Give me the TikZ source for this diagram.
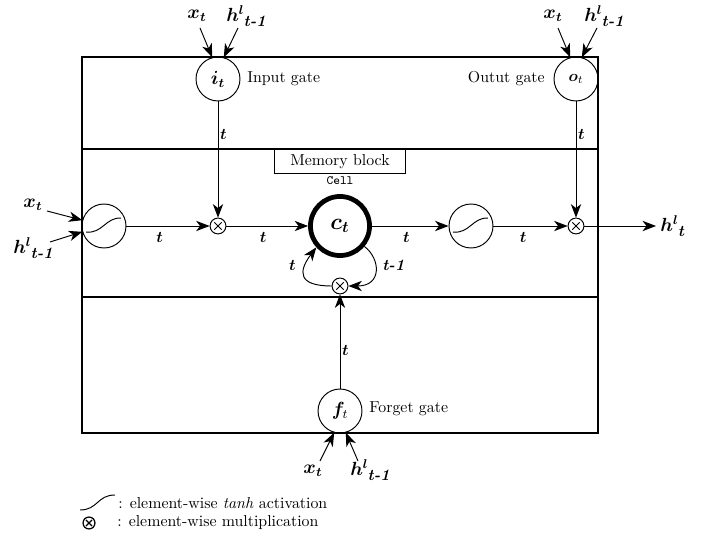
\documentclass[tikz,border=0pt]{standalone}
\usepackage{amsmath,bm}
\usetikzlibrary{arrows.meta}
\newcommand{\hlab}{$\bm{h}^{\bm{l}}$\kern-0.5pt\raisebox{-3pt}{\normalsize\bfseries\itshape t-1}}
\newcommand{\xlab}{$\bm{x}_{\bm{t}}$}
\begin{document}
\begin{tikzpicture}[x=0.63pt,y=-0.63pt,
  box/.style={line width=0.8pt},
  gate/.style={circle,draw,line width=0.6pt,minimum size=27.7pt,inner sep=0pt},
  act/.style={gate,path picture={
     \draw[line width=0.6pt] ([shift={(-11.3pt,-3.8pt)}]path picture bounding box.center)
        .. controls ([shift={(-1pt,-5pt)}]path picture bounding box.center)
        and ([shift={(1pt,5.5pt)}]path picture bounding box.center)
        .. ([shift={(10.7pt,5pt)}]path picture bounding box.center);}},
  mul/.style={circle,draw,line width=0.6pt,minimum size=10pt,inner sep=0pt,path picture={
     \draw[line width=0.6pt] ([shift={(-2.3pt,-2.3pt)}]path picture bounding box.center) -- ([shift={(2.3pt,2.3pt)}]path picture bounding box.center);
     \draw[line width=0.6pt] ([shift={(-2.3pt,2.3pt)}]path picture bounding box.center) -- ([shift={(2.3pt,-2.3pt)}]path picture bounding box.center);}},
  legmul/.style={circle,draw,line width=0.8pt,minimum size=7.5pt,inner sep=0pt,path picture={
     \draw[line width=0.8pt] ([shift={(-1.9pt,-1.9pt)}]path picture bounding box.center) -- ([shift={(1.9pt,1.9pt)}]path picture bounding box.center);
     \draw[line width=0.8pt] ([shift={(-1.9pt,1.9pt)}]path picture bounding box.center) -- ([shift={(1.9pt,-1.9pt)}]path picture bounding box.center);}},
  cellnode/.style={circle,draw,line width=3pt,minimum size=37.2pt,inner sep=0pt},
  flow/.style={line width=0.6pt,-{Stealth[length=8.5pt,width=6.5pt,inset=2.5pt]}},
  lab/.style={font=\large,inner sep=0pt},
  tl/.style={inner sep=1pt,font=\normalsize},
  gname/.style={inner sep=0pt}
]
\useasboundingbox (0,0) rectangle (711,539);
% frame
\draw[box] (82,57) rectangle (598,433);
\draw[box] (82,149) -- (598,149);
\draw[box] (82,297) -- (598,297);
\node[draw,line width=0.6pt,minimum width=83pt,minimum height=15pt,anchor=north,inner sep=0pt] (mem) at (340,149) {Memory block};

% nodes
\node[gate] (ig) at (218,79) {\large$\bm{i}_{\bm{t}}$};
\node[gate] (og) at (576,79) {$\bm{o}_t$};
\node[gate] (fg) at (340,411) {\large$\bm{f}_t$};
\node[act] (th1) at (104,226) {};
\node[mul] (m1) at (218,226) {};
\node[cellnode,label={[font=\ttfamily\footnotesize,label distance=2.5pt]90:Cell}] (cell) at (340,226) {\Large$\bm{c}_{\bm{t}}$};
\node[act] (th2) at (471,226) {};
\node[mul] (m2) at (576,226) {};
\node[mul] (mb) at (340,286) {};

\node[gname,anchor=west] (igl) at (247,79) {Input gate};
\node[gname,anchor=east] (ogl) at (545,79) {Outut gate};
\node[gname,anchor=west] (fgl) at (369,409) {Forget gate};

% input labels
\node[lab] (x1) at (197,16) {\xlab};
\node[lab] (h1) at (246,16) {\hlab};
\node[lab] (x2) at (553,16) {\xlab};
\node[lab] (h2) at (604,16) {\hlab};
\node[lab] (x3) at (33,205) {\xlab};
\node[lab] (h3) at (33,248) {\hlab};
\node[lab] (x4) at (313,471) {\xlab};
\node[lab] (h4) at (370,470) {\hlab};
\coordinate (x1t) at (200,28);
\coordinate (h1t) at (238,28);
\coordinate (x2t) at (558,28);
\coordinate (h2t) at (597,28);
\coordinate (x3t) at (47,211);
\coordinate (h3t) at (50,242);
\coordinate (x4t) at (320,461);
\coordinate (h4t) at (358,461);
\draw[flow] (x1t) -- (ig.105);
\draw[flow] (h1t) -- (ig.75);
\draw[flow] (x2t) -- (og.105);
\draw[flow] (h2t) -- (og.75);
\draw[flow] (x3t) -- (th1.165);
\draw[flow] (h3t) -- (th1.195);
\draw[flow] (x4t) -- (fg.255);
\draw[flow] (h4t) -- (fg.285);

% main flow
\draw[flow] (ig.south) -- node[tl,right,pos=0.28]{$\bm{t}$} (m1.north);
\draw[flow] (og.south) -- node[tl,right,pos=0.28]{$\bm{t}$} (m2.north);
\draw[flow] (th1.east) -- node[tl,below=2.5pt,pos=0.4]{$\bm{t}$} (m1.west);
\draw[flow] (m1.east) -- node[tl,below=2.5pt,pos=0.45]{$\bm{t}$} (cell.west);
\draw[flow] (cell.east) -- node[tl,below=2.5pt,pos=0.45]{$\bm{t}$} (th2.west);
\draw[flow] (th2.east) -- node[tl,below=2.5pt,pos=0.4]{$\bm{t}$} (m2.west);
\coordinate (out) at (656,226);
\draw[flow] (m2.east) -- (out);
\node[lab,anchor=west] (ht) at (660,226) {$\bm{h}^{\bm{l}}$\kern-0.5pt\raisebox{-3pt}{\normalsize\bfseries\itshape t}};
\draw[flow] (fg.north) -- node[tl,right,pos=0.4]{$\bm{t}$} (mb.south);
% loops
\draw[flow] (mb.west) .. controls +(-34,0) and +(-18,24) .. node[tl,left=5pt,pos=0.72]{$\bm{t}$} (cell.222);
\draw[flow] (cell.-40) .. controls +(16,12) and +(34,0) .. node[tl,right=3pt,pos=0.4]{\textbf{\textit{t-1}}} (mb.east);

% legend
\draw[line width=0.6pt] (80,510) .. controls (98,510) and (97,495) .. (115,495);
\node[anchor=west,inner sep=0pt] (leg1) at (118,503) {: element-wise \textit{tanh} activation};
\node[legmul] (otm) at (89,523) {};
\node[anchor=west,inner sep=0pt] (leg2) at (117,523) {: element-wise multiplication};
\end{tikzpicture}
\end{document}
